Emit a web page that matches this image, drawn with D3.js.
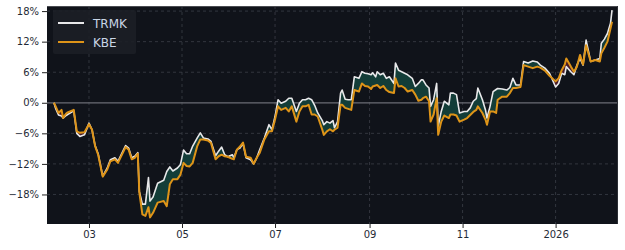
<!DOCTYPE html>
<html>
<head>
<meta charset="utf-8">
<script src="https://cdn.jsdelivr.net/npm/d3@7"></script>
<style>
  body { margin: 0; background: #ffffff; }
  svg { display: block; }
</style>
</head>
<body>
<div id="chart"></div>
<script>
// trading dates (approx.)
var dates = [
  "2025-02-06","2025-02-07","2025-02-09","2025-02-11","2025-02-12","2025-02-14","2025-02-15","2025-02-19",
  "2025-02-21","2025-02-23","2025-02-26","2025-03-01","2025-03-03","2025-03-05","2025-03-07","2025-03-10",
  "2025-03-13","2025-03-15","2025-03-18","2025-03-20","2025-03-25","2025-03-27","2025-03-29","2025-03-31",
  "2025-04-02","2025-04-03","2025-04-05","2025-04-07","2025-04-09","2025-04-10","2025-04-12","2025-04-15",
  "2025-04-19","2025-04-21","2025-04-23","2025-04-25","2025-04-28","2025-04-30","2025-05-02","2025-05-04",
  "2025-05-06","2025-05-08","2025-05-11","2025-05-13","2025-05-15","2025-05-18","2025-05-20","2025-05-23",
  "2025-05-25","2025-05-27","2025-05-29","2025-05-31","2025-06-03","2025-06-04","2025-06-06","2025-06-08",
  "2025-06-10","2025-06-12","2025-06-15","2025-06-17","2025-06-19","2025-06-21","2025-06-24","2025-06-27",
  "2025-06-29","2025-07-01","2025-07-03","2025-07-05","2025-07-08","2025-07-10","2025-07-12","2025-07-15",
  "2025-07-17","2025-07-19","2025-07-21","2025-07-23","2025-07-25","2025-07-27","2025-07-29","2025-08-01",
  "2025-08-02","2025-08-04","2025-08-06","2025-08-08","2025-08-09","2025-08-11","2025-08-13","2025-08-14",
  "2025-08-16","2025-08-18","2025-08-20","2025-08-22","2025-08-25","2025-08-27","2025-08-29","2025-08-31",
  "2025-09-02","2025-09-03","2025-09-05","2025-09-06","2025-09-08","2025-09-10","2025-09-12","2025-09-14",
  "2025-09-17","2025-09-18","2025-09-20","2025-09-22","2025-09-24","2025-09-26","2025-09-29","2025-10-01",
  "2025-10-03","2025-10-05","2025-10-06","2025-10-08","2025-10-10","2025-10-11","2025-10-13","2025-10-15",
  "2025-10-16","2025-10-18","2025-10-20","2025-10-23","2025-10-24","2025-10-26","2025-10-28","2025-10-30",
  "2025-11-02","2025-11-04","2025-11-06","2025-11-08","2025-11-10","2025-11-11","2025-11-14","2025-11-16",
  "2025-11-17","2025-11-19","2025-11-21","2025-11-23","2025-11-24","2025-11-27","2025-11-30","2025-12-02",
  "2025-12-04","2025-12-06","2025-12-09","2025-12-11","2025-12-14","2025-12-17","2025-12-20","2025-12-22",
  "2025-12-25","2025-12-28","2026-01-01","2026-01-03","2026-01-05","2026-01-07","2026-01-08","2026-01-11",
  "2026-01-13","2026-01-15","2026-01-17","2026-01-19","2026-01-21","2026-01-24","2026-01-27","2026-01-30",
  "2026-01-31","2026-02-02","2026-02-04","2026-02-06","2026-02-07"
];

// cumulative return, %
var trmk = [
  0, -1.0, -2.4, -2.6, -3.0, -2.5, -2.3, -1.6,
  -6.0, -6.6, -6.3, -4.0, -5.3, -8.4, -10.0, -14.4,
  -12.8, -11.2, -10.8, -11.5, -8.4, -8.9, -10.8, -10.5,
  -9.8, -17.4, -19.9, -19.9, -14.7, -19.3, -18.5, -15.8,
  -15.2, -13.5, -12.6, -13.4, -12.8, -12.1, -9.3, -10.0,
  -10.0, -8.5, -6.9, -5.9, -6.9, -7.1, -7.6, -10.4,
  -9.5, -8.7, -10.2, -10.6, -10.2, -10.8, -9.2, -8.9,
  -8.0, -10.8, -11.2, -12.0, -10.8, -9.2, -6.9, -4.3,
  -5.3, -2.7, 0.6, -0.1, 0.3, 0.9, 0.9, -1.7,
  -0.1, 0.6, 0.6, 0.9, 0.6, -0.5, -2.0, -3.5,
  -4.3, -3.7, -4.0, -3.5, -4.9, -3.7, 1.9, 2.5,
  0.7, 0.6, 0.6, 5.1, 4.8, 6.1, 5.8, 5.7,
  5.5, 5.9, 5.1, 6.1, 5.5, 5.8, 4.8, 5.1,
  3.8, 7.8, 6.4, 6.1, 5.8, 5.5, 4.8, 3.2,
  3.8, 4.5, 4.5, 3.5, 2.9, -0.7, 0.6, 3.8,
  -4.6, -1.7, 0.3, -0.4, 1.9, 1.9, 1.6, -2.0,
  -1.7, -1.7, -1.0, 0.3, 0.8, 2.9, 0.6, -1.4,
  -3.0, -0.7, 2.2, 2.6, 2.8, 2.7, 2.5, 3.0,
  4.8, 3.5, 3.5, 8.1, 7.8, 8.2, 8.0, 7.4,
  6.8, 5.8, 3.1, 3.8, 5.8, 5.5, 7.1, 6.1,
  5.5, 7.4, 8.7, 7.4, 12.3, 8.1, 8.4, 8.7,
  11.7, 12.5, 13.6, 15.6, 18.2
];

var kbe = [
  0, -0.6, -2.0, -1.4, -3.0, -2.1, -1.9, -1.4,
  -5.6, -5.9, -5.8, -4.2, -5.3, -8.5, -10.2, -14.5,
  -13.1, -11.5, -11.1, -11.8, -8.7, -9.2, -11.1, -10.8,
  -10.0, -17.6, -21.9, -22.2, -20.5, -22.5, -21.6, -19.6,
  -19.3, -20.3, -16.0, -15.0, -15.0, -14.1, -11.8, -12.4,
  -12.5, -11.8, -8.5, -7.2, -7.2, -7.4, -7.9, -11.1,
  -10.5, -10.2, -10.5, -10.6, -11.0, -11.1, -9.2, -8.6,
  -7.8, -10.6, -10.8, -12.0, -10.8, -9.8, -7.2, -5.6,
  -5.6, -3.3, -0.7, -1.4, -1.0, -1.7, -0.7, -3.7,
  -1.7, -0.7, -0.7, -0.4, -2.3, -2.3, -2.7, -5.3,
  -6.3, -5.6, -5.2, -5.6, -5.3, -4.9, -0.4, -0.4,
  -1.0, -1.2, -1.4, 2.5, 2.2, 3.8, 3.3, 3.2,
  2.7, 3.2, 3.4, 3.5, 2.9, 3.3, 2.5, 2.1,
  1.9, 4.8, 3.2, 3.3, 2.9, 2.2, 2.5, 1.6,
  0.4, 0.6, 0.9, 1.2, 0.3, -3.7, -2.3, 0.9,
  -6.3, -3.7, -2.5, -3.0, -2.3, -2.3, -2.5, -3.7,
  -3.3, -3.0, -2.4, -1.8, -1.4, -0.7, -2.0, -3.3,
  -4.3, -1.7, -1.7, -2.0, 0.6, 1.2, 1.2, 1.9,
  2.9, 2.9, 3.1, 7.4, 7.1, 6.8, 7.1, 6.9,
  6.3, 5.3, 4.2, 4.8, 6.4, 7.5, 8.7, 7.1,
  6.1, 7.1, 9.4, 7.5, 11.3, 8.1, 8.4, 8.1,
  9.7, 10.8, 12.0, 14.6, 15.9
];

var seriesNames = ["TRMK", "KBE"];
var yTicks = [-18, -12, -6, 0, 6, 12, 18];
var xTicks = ["2025-03-01", "2025-05-01", "2025-07-01", "2025-09-01", "2025-11-01", "2026-01-01"];

var width = 625, height = 250;
var margin = {top: 6, right: 7, bottom: 26, left: 47};
var parse = d3.timeParse("%Y-%m-%d");

var data = dates.map(function (d, i) {
    return {date: parse(d), a: trmk[i], b: kbe[i]};
});

var svg = d3.select("#chart").append("svg")
    .attr("width", width)
    .attr("height", height)
    .style("font-family", "DejaVu Sans, sans-serif");

var x = d3.scaleTime()
    .domain([new Date(2025, 1, 1, 11), new Date(2026, 1, 10, 22)])
    .range([margin.left, width - margin.right]);
var y = d3.scaleLinear()
    .domain([-23.8, 19.0])
    .range([height - margin.bottom, margin.top]);

var plotW = width - margin.right - margin.left;
var plotH = height - margin.bottom - margin.top;

svg.append("rect")
    .attr("x", margin.left)
    .attr("y", margin.top)
    .attr("width", plotW)
    .attr("height", plotH)
    .attr("fill", "#10131a");

// grid
var tickDates = xTicks.map(parse);
svg.append("g").selectAll("line")
    .data(tickDates).enter().append("line")
    .attr("x1", function (d) { return x(d); })
    .attr("x2", function (d) { return x(d); })
    .attr("y1", margin.top)
    .attr("y2", height - margin.bottom)
    .attr("stroke", "#3b3f48")
    .attr("stroke-width", 0.8)
    .attr("stroke-dasharray", "3,3");
svg.append("g").selectAll("line")
    .data(yTicks.filter(function (d) { return d !== 0; })).enter().append("line")
    .attr("x1", margin.left)
    .attr("x2", width - margin.right)
    .attr("y1", function (d) { return y(d); })
    .attr("y2", function (d) { return y(d); })
    .attr("stroke", "#3b3f48")
    .attr("stroke-width", 0.8)
    .attr("stroke-dasharray", "3,3");

// zero line
svg.append("line")
    .attr("x1", margin.left)
    .attr("x2", width - margin.right)
    .attr("y1", y(0))
    .attr("y2", y(0))
    .attr("stroke", "#6a6d74")
    .attr("stroke-width", 1.2);

// fill between: green where TRMK above KBE, red where below
var defs = svg.append("defs");
defs.append("clipPath").attr("id", "above")
    .append("path")
    .attr("d", d3.area().x(function (d) { return x(d.date); })
        .y0(margin.top).y1(function (d) { return y(d.b); })(data));
defs.append("clipPath").attr("id", "below")
    .append("path")
    .attr("d", d3.area().x(function (d) { return x(d.date); })
        .y0(height - margin.bottom).y1(function (d) { return y(d.b); })(data));

var between = d3.area()
    .x(function (d) { return x(d.date); })
    .y0(function (d) { return y(d.b); })
    .y1(function (d) { return y(d.a); });

svg.append("path")
    .datum(data)
    .attr("clip-path", "url(#above)")
    .attr("d", between)
    .attr("fill", "#133d38");
svg.append("path")
    .datum(data)
    .attr("clip-path", "url(#below)")
    .attr("d", between)
    .attr("fill", "#4a1b27");

// lines
var lineA = d3.line().x(function (d) { return x(d.date); }).y(function (d) { return y(d.a); });
var lineB = d3.line().x(function (d) { return x(d.date); }).y(function (d) { return y(d.b); });

svg.append("path")
    .datum(data)
    .attr("d", lineA)
    .attr("fill", "none")
    .attr("stroke", "#e8e8ea")
    .attr("stroke-width", 1.6)
    .attr("stroke-linejoin", "round");
svg.append("path")
    .datum(data)
    .attr("d", lineB)
    .attr("fill", "none")
    .attr("stroke", "#de9418")
    .attr("stroke-width", 2.0)
    .attr("stroke-linejoin", "round");

// frame
svg.append("line")
    .attr("x1", margin.left).attr("x2", width - margin.right)
    .attr("y1", margin.top + 0.5).attr("y2", margin.top + 0.5)
    .attr("stroke", "#4a4c52").attr("stroke-width", 1);
svg.append("line")
    .attr("x1", width - margin.right - 0.5).attr("x2", width - margin.right - 0.5)
    .attr("y1", margin.top).attr("y2", height - margin.bottom)
    .attr("stroke", "#2a2d33").attr("stroke-width", 1);

// axes
var fmtMonth = d3.timeFormat("%m");
var xAxis = d3.axisBottom(x)
    .tickValues(tickDates)
    .tickSize(4)
    .tickPadding(3)
    .tickFormat(function (d) { return d.getMonth() === 0 ? d.getFullYear() : fmtMonth(d); });
var gx = svg.append("g")
    .attr("transform", "translate(0," + (height - margin.bottom) + ")")
    .call(xAxis);

var yAxis = d3.axisLeft(y)
    .tickValues(yTicks)
    .tickSize(5)
    .tickPadding(3)
    .tickFormat(function (d) { return (d < 0 ? "\u2212" + Math.abs(d) : d) + "%"; });
var gy = svg.append("g")
    .attr("transform", "translate(" + margin.left + ",0)")
    .call(yAxis);

[gx, gy].forEach(function (g) {
    g.select(".domain").remove();
    g.selectAll(".tick line").attr("stroke", "#222");
    g.selectAll(".tick text")
        .attr("fill", "#1f2a36")
        .style("font-size", "10px")
        .style("font-family", "DejaVu Sans, sans-serif");
});

// legend
var lg = svg.append("g");
lg.append("rect")
    .attr("x", 53).attr("y", 10)
    .attr("width", 83).attr("height", 44)
    .attr("rx", 2)
    .attr("fill", "#1c1f26")
    .attr("opacity", 0.9);
var legendColors = ["#e8e8ea", "#de9418"];
seriesNames.forEach(function (name, i) {
    var ly = 23 + i * 19;
    lg.append("line")
        .attr("x1", 58).attr("x2", 84)
        .attr("y1", ly).attr("y2", ly)
        .attr("stroke", legendColors[i])
        .attr("stroke-width", 2);
    lg.append("text")
        .attr("x", 93).attr("y", ly + 4.5)
        .attr("fill", "#c9d6e6")
        .style("font-size", "12px")
        .text(name);
});
</script>
</body>
</html>
